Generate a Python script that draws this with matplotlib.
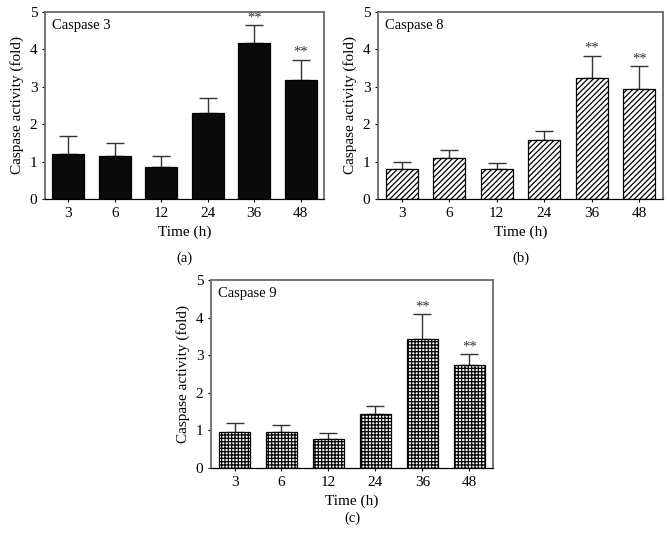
import numpy as np
import matplotlib
matplotlib.use("Agg")
from matplotlib import pyplot as plt

plt.rcParams['font.family'] = ['Liberation Serif', 'DejaVu Serif']
plt.rcParams['hatch.linewidth'] = 0.9

# DADOS
times = ['3', '6', '12', '24', '36', '48']
casp3 = [1.21, 1.14, 0.86, 2.29, 4.18, 3.19]
casp3_err = [0.47, 0.36, 0.28, 0.41, 0.46, 0.53]
casp8 = [0.81, 1.10, 0.81, 1.58, 3.24, 2.95]
casp8_err = [0.18, 0.21, 0.14, 0.25, 0.58, 0.60]
casp9 = [0.96, 0.96, 0.77, 1.44, 3.42, 2.73]
casp9_err = [0.24, 0.19, 0.15, 0.22, 0.67, 0.29]
signif = ['', '', '', '', '**', '**']


def draw_panel(ax, values, errors, title, hatch, color, letter, letter_y):
    x = np.arange(len(times))
    ax.bar(x, values, width=0.68, color=color, edgecolor='black',
           hatch=hatch, linewidth=0.9, zorder=2)
    ax.errorbar(x, values, yerr=[np.zeros(len(errors)), errors], fmt='none',
                ecolor='#333333', elinewidth=1.0, capsize=6.3, capthick=1.0, zorder=1)
    for xi, v, e, s in zip(x, values, errors, signif):
        if s:
            ax.text(xi, v + e + 0.03, s, ha='center', va='bottom', fontsize=10.5, color='#333333')
    ax.set_xlim(-0.5, len(times) - 0.5)
    ax.set_ylim(0, 5)
    ax.set_yticks(range(6))
    ax.set_xticks(x)
    ax.set_xticklabels(times)
    ax.tick_params(axis='x', length=2.5, width=0.8, direction='out', labelsize=11, pad=3)
    ax.tick_params(axis='y', length=2.5, width=0.8, direction='out', labelsize=11, pad=3)
    for side in ['top', 'right', 'left']:
        ax.spines[side].set_color('#6a6a6a')
        ax.spines[side].set_linewidth(1.3)
    ax.spines['bottom'].set_color('black')
    ax.spines['bottom'].set_linewidth(0.9)
    ax.set_ylabel('Caspase activity (fold)', fontsize=11, labelpad=4)
    ax.set_xlabel('Time (h)', fontsize=11, labelpad=4)
    ax.text(0.025, 0.96, title, transform=ax.transAxes, ha='left', va='top', fontsize=10.5)
    ax.text(0.5, letter_y, letter, transform=ax.transAxes, ha='center', va='center', fontsize=10.5)


fig = plt.figure(figsize=(6.69, 5.52), dpi=100)
ax_a = fig.add_axes([0.0673, 0.6395, 0.417, 0.3388])
ax_b = fig.add_axes([0.565, 0.6395, 0.426, 0.3388])
ax_c = fig.add_axes([0.3154, 0.1522, 0.4215, 0.3406])

draw_panel(ax_a, casp3, casp3_err, 'Caspase 3', None, '#0a0a0a', '(a)', -0.315)
draw_panel(ax_b, casp8, casp8_err, 'Caspase 8', '//////', 'white', '(b)', -0.315)
draw_panel(ax_c, casp9, casp9_err, 'Caspase 9', '+++++', 'white', '(c)', -0.27)

fig.savefig('out.png', dpi=100)
